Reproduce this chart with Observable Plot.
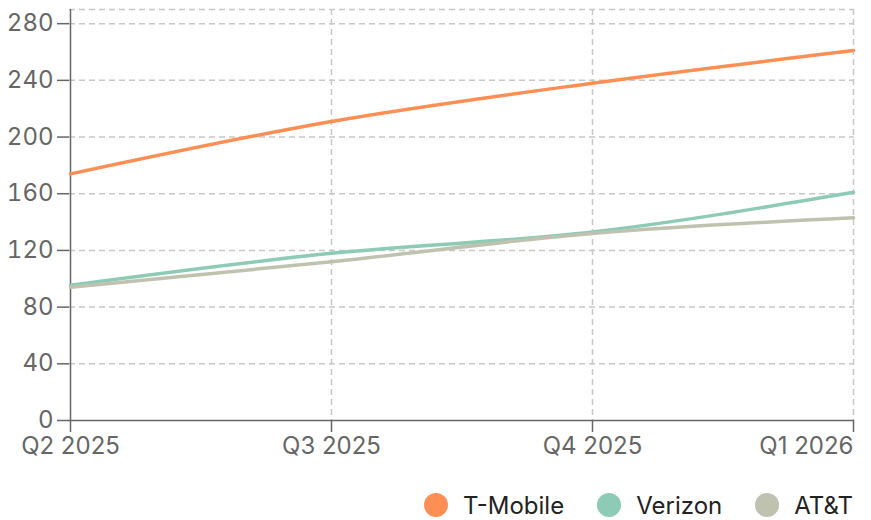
<!DOCTYPE html>
<html>
<head>
<meta charset="utf-8">
<script src="https://cdn.jsdelivr.net/npm/d3@7"></script>
<script src="https://cdn.jsdelivr.net/npm/@observablehq/plot@0.6"></script>
<style>
  html, body { margin: 0; padding: 0; background: #fff; }
  body { width: 871px; height: 520px; font-family: Inter, "Noto Sans", sans-serif; overflow: hidden; }
  #chart svg { display: block; }
  #legend { display: flex; justify-content: flex-end; align-items: center; height: 60px; margin-top: 15px; padding-right: 18px; font-size: 24px; color: #222; }
  .item { display: flex; align-items: center; margin-left: 33px; }
  .sw { width: 24px; height: 24px; border-radius: 50%; margin-right: 15px; }
</style>
</head>
<body>
<div id="chart"></div>
<div id="legend"></div>
<script>
const quarters = ["Q2 2025", "Q3 2025", "Q4 2025", "Q1 2026"];
const seriesNames = ["T-Mobile", "Verizon", "AT&T"];
const tmobile = [174, 211, 238, 261];
const verizon = [95.5, 118, 133, 161];
const att = [94, 112, 132, 143];
const colors = ["#fd8f54", "#8dcbb7", "#c0c2b0"];
const yTicks = [0, 40, 80, 120, 160, 200, 240, 280];

const values = [tmobile, verizon, att];
const data = [];
seriesNames.forEach((s, i) => quarters.forEach((q, j) => data.push({series: s, quarter: q, value: values[i][j]})));

const grid = {stroke: "#c8c8c8", strokeWidth: 1.5, strokeDasharray: "6,4", strokeOpacity: 1};
const axisStyle = {tickSize: 12, stroke: "#666", strokeWidth: 1.5, fill: "#666", fontSize: 24, label: null};

const plot = Plot.plot({
  width: 871,
  height: 460,
  marginLeft: 69,
  marginRight: 17,
  marginTop: 9,
  marginBottom: 40,
  style: {fontFamily: "Inter, 'Noto Sans', sans-serif", fontSize: "24px", color: "#666", background: "#fff"},
  x: {type: "point", domain: quarters, padding: 0, label: null},
  y: {domain: [0, 290], label: null},
  color: {domain: seriesNames, range: colors},
  marks: [
    Plot.ruleY(yTicks.slice(1), grid),
    Plot.ruleY([290], grid),
    Plot.ruleX(quarters.slice(1), grid),
    Plot.axisY(yTicks, {...axisStyle, tickPadding: 4}),
    Plot.axisX(quarters.slice(0, 3), {...axisStyle, tickPadding: 4}),
    Plot.axisX(quarters.slice(3), {...axisStyle, tickPadding: 4, textAnchor: "end"}),
    Plot.ruleY([0], {stroke: "#666", strokeWidth: 1.5}),
    Plot.ruleX([quarters[0]], {stroke: "#666", strokeWidth: 1.5}),
    Plot.line(data, {x: "quarter", y: "value", z: "series", stroke: "series", strokeWidth: 3.5, curve: "monotone-x"})
  ]
});
document.getElementById("chart").appendChild(plot);

const legend = document.getElementById("legend");
seriesNames.forEach((s, i) => {
  const it = document.createElement("div");
  it.className = "item";
  const sw = document.createElement("div");
  sw.className = "sw";
  sw.style.background = colors[i];
  const t = document.createElement("span");
  t.textContent = s;
  it.appendChild(sw); it.appendChild(t);
  legend.appendChild(it);
});
</script>
</body>
</html>
